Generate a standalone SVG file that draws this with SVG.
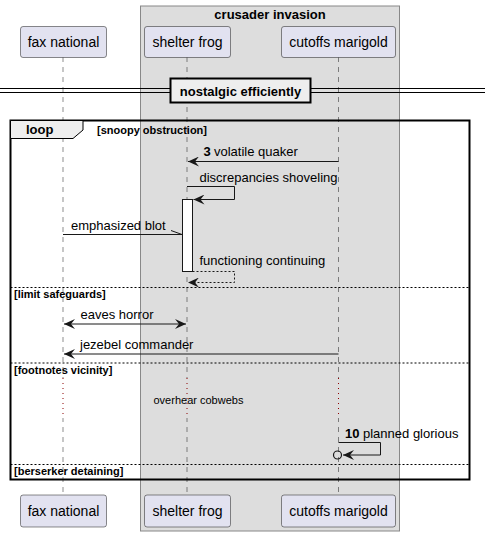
<svg xmlns="http://www.w3.org/2000/svg" width="485" height="537" viewBox="0 0 485 537">
<defs>
<style>
text{font-family:"Liberation Sans",Arial,sans-serif;fill:#000}
.pn{font-size:14px}
.ml{font-size:13px}
.b{font-weight:bold}
.part{fill:#E2E2F0;stroke:#181818;stroke-width:0.5}
.life{stroke:#181818;stroke-width:0.5;stroke-dasharray:5,5}
.msg{stroke:#181818;stroke-width:1;fill:none}
.dash{stroke-dasharray:2,2}
.sep{stroke:#000;stroke-width:1;stroke-dasharray:2,2}
.delay{stroke:#8B0000;stroke-width:1;stroke-dasharray:1,4}
</style>
<marker id="ah" viewBox="0 0 12 10" refX="11" refY="5" markerWidth="12" markerHeight="10" orient="auto-start-reverse" markerUnits="userSpaceOnUse">
<path d="M0,0 L11,5 L0,10 L4,5 Z" fill="#181818"/>
</marker>
</defs>
<rect x="140.5" y="6" width="259" height="525" fill="#DDDDDD" stroke="#888888" stroke-width="1"/>
<text x="270" y="19" text-anchor="middle" class="ml b">crusader invasion</text>
<g id="lifelines">
<line class="life" x1="63" y1="57" x2="63" y2="495"/>
<line class="life" x1="187" y1="57" x2="187" y2="495"/>
<line class="life" x1="338.5" y1="57" x2="338.5" y2="495"/>
</g>
<g id="divider">
<line x1="0" y1="88.5" x2="485" y2="88.5" stroke="#000" stroke-width="1"/>
<line x1="0" y1="92.5" x2="485" y2="92.5" stroke="#000" stroke-width="1"/>
<rect x="170.5" y="78.5" width="140" height="24" fill="#EEEEEE" stroke="#000" stroke-width="2"/>
<text x="240.5" y="96" text-anchor="middle" class="ml b">nostalgic efficiently</text>
</g>
<g id="loop">
<rect x="10.5" y="120.5" width="459" height="359" fill="none" stroke="#000" stroke-width="2"/>
<path d="M10.5,120.5 H83 V130 L73,138.5 H10.5 Z" fill="#EEEEEE" stroke="#000" stroke-width="1"/>
<text x="26" y="134" class="ml b">loop</text>
<text x="97" y="134" font-size="11" class="b">[snoopy obstruction]</text>
<line class="sep" x1="10.5" y1="287.5" x2="469.5" y2="287.5"/>
<text x="14" y="298" font-size="11" class="b">[limit safeguards]</text>
<line class="sep" x1="10.5" y1="363" x2="469.5" y2="363"/>
<text x="14" y="374" font-size="11" class="b">[footnotes vicinity]</text>
<line class="sep" x1="10.5" y1="464.5" x2="469.5" y2="464.5"/>
<text x="14" y="475" font-size="11" class="b">[berserker detaining]</text>
</g>
<g id="delay">
<rect x="56" y="377" width="290" height="41" fill="none" stroke="none"/>
<line x1="63" y1="378" x2="63" y2="418" stroke="#fff" stroke-width="2"/>
<line x1="187" y1="378" x2="187" y2="418" stroke="#DDDDDD" stroke-width="2"/>
<line x1="338.5" y1="378" x2="338.5" y2="418" stroke="#DDDDDD" stroke-width="2"/>
<line class="delay" x1="63" y1="378" x2="63" y2="418"/>
<line class="delay" x1="187" y1="378" x2="187" y2="418"/>
<line class="delay" x1="338.5" y1="378" x2="338.5" y2="418"/>
<text x="153.5" y="403.5" font-size="11">overhear cobwebs</text>
</g>
<g id="activation">
<rect x="182.5" y="199.5" width="10" height="72" fill="#FFFFFF" stroke="#181818" stroke-width="1"/>
</g>
<g id="connectors">
<line class="msg" x1="338.5" y1="161.5" x2="188" y2="161.5" marker-end="url(#ah)"/>
<text x="203.5" y="156" class="ml b">3</text>
<text x="214" y="156" class="ml">volatile quaker</text>
<polyline class="msg" points="187,186.5 234.5,186.5 234.5,199.5 193.5,199.5" marker-end="url(#ah)"/>
<text x="199.5" y="181.5" class="ml">discrepancies shoveling</text>
<line class="msg" x1="63" y1="234.5" x2="182" y2="234.5"/>
<line class="msg" x1="171" y1="230.5" x2="182" y2="234.5"/>
<text x="71" y="229.5" class="ml">emphasized blot</text>
<polyline class="msg dash" points="192.5,271.5 234.5,271.5 234.5,282.5 188,282.5" marker-end="url(#ah)"/>
<text x="199.5" y="265" class="ml">functioning continuing</text>
<line class="msg" x1="64" y1="324" x2="186" y2="324" marker-start="url(#ah)" marker-end="url(#ah)"/>
<text x="80.5" y="318.5" class="ml">eaves horror</text>
<line class="msg" x1="338.5" y1="354" x2="64" y2="354" marker-end="url(#ah)"/>
<text x="80" y="348.5" class="ml">jezebel commander</text>
<polyline class="msg" points="338.5,442.5 380.5,442.5 380.5,455 343,455" marker-end="url(#ah)"/>
<circle cx="337.5" cy="455" r="4" fill="none" stroke="#181818" stroke-width="1.2"/>
<text x="345" y="438" class="ml b">10</text>
<text x="363" y="438" class="ml">planned glorious</text>
</g>
<g id="p-fax">
<rect class="part" x="20.5" y="26.5" width="86" height="31" rx="2.5"/>
<text x="63.5" y="47" text-anchor="middle" class="pn">fax national</text>
<rect class="part" x="20.5" y="495" width="86" height="32" rx="2.5"/>
<text x="63.5" y="516" text-anchor="middle" class="pn">fax national</text>
</g>
<g id="p-shelter">
<rect class="part" x="144.5" y="26.5" width="86" height="31" rx="2.5"/>
<text x="187.5" y="47" text-anchor="middle" class="pn">shelter frog</text>
<rect class="part" x="144.5" y="495" width="86" height="32" rx="2.5"/>
<text x="187.5" y="516" text-anchor="middle" class="pn">shelter frog</text>
</g>
<g id="p-cutoffs">
<rect class="part" x="281.5" y="26.5" width="114" height="31" rx="2.5"/>
<text x="338.5" y="47" text-anchor="middle" class="pn">cutoffs marigold</text>
<rect class="part" x="281.5" y="495" width="114" height="32" rx="2.5"/>
<text x="338.5" y="516" text-anchor="middle" class="pn">cutoffs marigold</text>
</g>
</svg>
